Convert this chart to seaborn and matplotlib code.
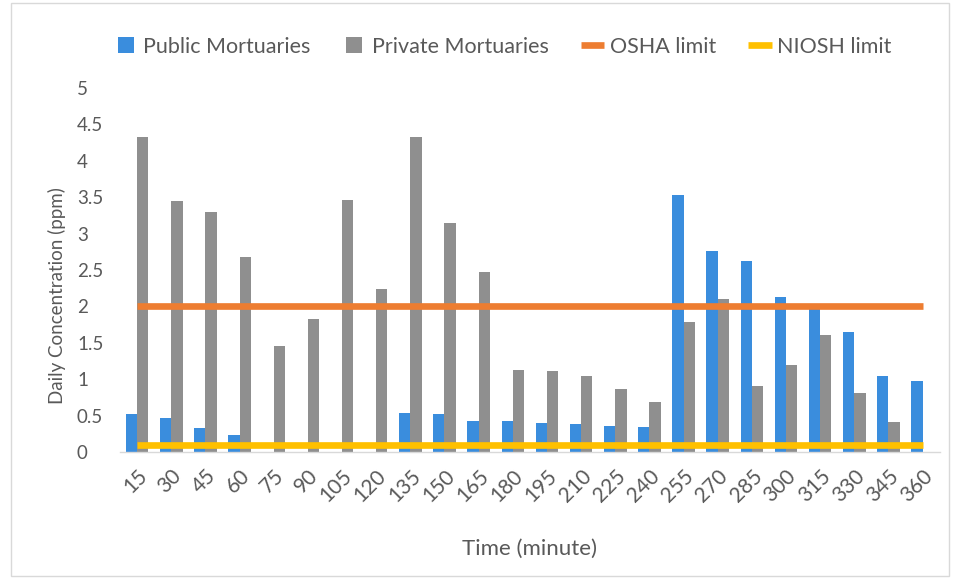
import numpy as np
import pandas as pd
import matplotlib
matplotlib.use("Agg")
import matplotlib.pyplot as plt
import matplotlib.transforms as mtransforms
import seaborn as sns
from matplotlib.patches import Rectangle
from matplotlib.lines import Line2D

# Sampling times (minutes)
times = [15, 30, 45, 60, 75, 90, 105, 120, 135, 150, 165, 180,
         195, 210, 225, 240, 255, 270, 285, 300, 315, 330, 345, 360]

# Daily concentration (ppm)
public = [0.52, 0.47, 0.33, 0.23, 0.0, 0.0, 0.0, 0.0, 0.54, 0.52, 0.43, 0.43,
          0.40, 0.39, 0.36, 0.34, 3.53, 2.76, 2.62, 2.13, 1.98, 1.65, 1.05, 0.98]
private = [4.32, 3.44, 3.30, 2.68, 1.46, 1.83, 3.46, 2.24, 4.32, 3.15, 2.47, 1.12,
           1.11, 1.05, 0.86, 0.69, 1.78, 2.10, 0.91, 1.20, 1.60, 0.81, 0.41, 0.0]

# Exposure limits (ppm)
osha_limit = [2.0] * len(times)
niosh_limit = [0.1] * len(times)

y_ticks = [0, 0.5, 1, 1.5, 2, 2.5, 3, 3.5, 4, 4.5, 5]
y_tick_labels = ["0", "0.5", "1", "1.5", "2", "2.5", "3", "3.5", "4", "4.5", "5"]

series_names = ["Public Mortuaries", "Private Mortuaries"]
colors = {"Public Mortuaries": "#3a8ddd", "Private Mortuaries": "#8f8f8f"}
osha_color = "#ed7d31"
niosh_color = "#ffc000"
text_color = "#595959"
line_w = 4.8

df = pd.DataFrame({
    "Time": [str(t) for t in times] * 2,
    "Concentration": public + private,
    "Group": [series_names[0]] * len(times) + [series_names[1]] * len(times),
})
limits = pd.DataFrame({"pos": np.arange(len(times)), "OSHA": osha_limit, "NIOSH": niosh_limit})

sns.set_theme(style="white")
plt.rcParams["font.family"] = ["Lato", "DejaVu Sans"]

fig = plt.figure(figsize=(9.54, 5.78), dpi=100)
ax = fig.add_axes([0.1258, 0.218, 0.8592, 0.630])

sns.barplot(data=df, x="Time", y="Concentration", hue="Group", palette=colors,
            width=0.66, ax=ax, legend=False, saturation=1, linewidth=0)

sns.lineplot(data=limits, x="pos", y="OSHA", color=osha_color, linewidth=line_w,
             ax=ax, legend=False, zorder=5, solid_capstyle="butt")
sns.lineplot(data=limits, x="pos", y="NIOSH", color=niosh_color, linewidth=line_w,
             ax=ax, legend=False, zorder=5, solid_capstyle="butt")

ax.set_xlim(-0.5, len(times) - 0.5)
ax.set_ylim(0, 5)
ax.tick_params(axis="both", colors=text_color, length=0)
ax.tick_params(axis="x", labelsize=15, pad=10)
ax.set_xticks(np.arange(len(times)))
ax.set_xticklabels([str(t) for t in times], rotation=45, ha="right",
                   rotation_mode="anchor")

# Value axis: ticks kept, labels written left-aligned in a column
ax.set_yticks(y_ticks)
ax.tick_params(axis="y", labelleft=False)
ytrans = mtransforms.blended_transform_factory(ax.transAxes, ax.transData)
for val, txt in zip(y_ticks, y_tick_labels):
    ax.text(-0.0525, val, txt, transform=ytrans, ha="left", va="center_baseline",
            fontsize=13.5, color=text_color, clip_on=False)

for side in ["top", "right", "left"]:
    ax.spines[side].set_visible(False)
ax.spines["bottom"].set_color("#d9d9d9")
ax.spines["bottom"].set_linewidth(1)

ax.set_xlabel("Time (minute)", color=text_color, fontsize=16, labelpad=24)
ax.set_ylabel("Daily Concentration (ppm)", color=text_color, fontsize=13.5)
ax.yaxis.set_label_coords(-0.066, 0.43)

handles = [
    Line2D([], [], marker="s", linestyle="none", markersize=11, markeredgewidth=0,
           color=colors["Public Mortuaries"], label="Public Mortuaries"),
    Line2D([], [], marker="s", linestyle="none", markersize=11, markeredgewidth=0,
           color=colors["Private Mortuaries"], label="Private Mortuaries"),
    Line2D([], [], color=osha_color, linewidth=line_w, solid_capstyle="butt",
           label="OSHA limit"),
    Line2D([], [], color=niosh_color, linewidth=line_w, solid_capstyle="butt",
           label="NIOSH limit"),
]
fig.legend(handles=handles, loc="center", bbox_to_anchor=(0.527, 0.919), ncol=4,
           frameon=False, fontsize=15.5, labelcolor=text_color, handlelength=1.1,
           handletextpad=0.25, columnspacing=1.5)

# Chart-area border
fig.patches.append(Rectangle((0.012, 0.004), 0.983, 0.99, transform=fig.transFigure,
                             fill=False, edgecolor="#d9d9d9", linewidth=1))

fig.savefig("out.png", dpi=100, facecolor="white")
